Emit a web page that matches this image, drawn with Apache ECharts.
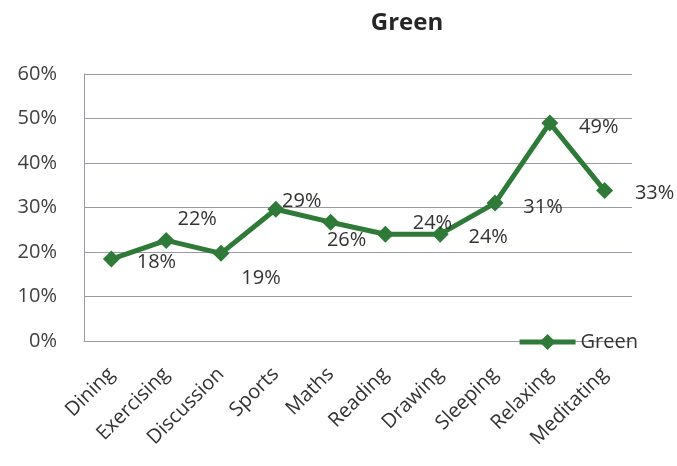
<!DOCTYPE html>
<html>
<head>
<meta charset="utf-8">
<script src="https://cdn.jsdelivr.net/npm/echarts@6/dist/echarts.min.js"></script>
<style>html,body{margin:0;padding:0;background:#fff}#c{width:677px;height:466px}</style>
</head>
<body>
<div id="c"></div>
<script>
const categories = ['Dining','Exercising','Discussion','Sports','Maths','Reading','Drawing','Sleeping','Relaxing','Meditating'];
const greenValues = [18.4, 22.6, 19.7, 29.6, 26.7, 24.0, 24.0, 31.0, 49.0, 33.8];
const yTicks = [0, 10, 20, 30, 40, 50, 60];
const seriesName = 'Green';

const labelOffsets = [[45,3],[31,-21],[40,25],[26,-8],[16,18],[47,-11],[48,3],[48,4],[49,4],[50,3]];
const FONT = '"Open Sans", sans-serif';
const GREEN = '#2f7a38';

const chart = echarts.init(document.getElementById('c'));
chart.setOption({
  animation: false,
  backgroundColor: '#fff',
  title: {
    text: seriesName,
    left: 402, top: 6, textAlign: 'center',
    textStyle: { fontFamily: FONT, fontSize: 24, fontWeight: 'bold', color: '#262626' }
  },
  legend: {
    right: 34, top: 327,
    itemWidth: 56, itemHeight: 20, itemGap: 4,
    lineStyle: { width: 5 },
    textStyle: { fontFamily: FONT, fontSize: 20, color: '#333' },
    data: [seriesName]
  },
  grid: { left: 84, right: 45, top: 74, bottom: 125 },
  xAxis: {
    type: 'category', data: categories, boundaryGap: true,
    axisLine: { show: true, lineStyle: { color: '#9a9aa4' } },
    axisTick: { show: false },
    axisLabel: { rotate: 45, margin: 30, interval: 0, fontFamily: FONT, fontSize: 20, color: '#333' }
  },
  yAxis: {
    type: 'value', min: yTicks[0], max: yTicks[yTicks.length-1], interval: 10,
    axisLine: { show: true, lineStyle: { color: '#9a9aa4' } },
    axisTick: { show: false },
    splitLine: { lineStyle: { color: '#9a9aa4', width: 1 } },
    axisLabel: { margin: 27, fontFamily: FONT, fontSize: 20, color: '#404040', formatter: v => v + '%' }
  },
  series: [{
    name: seriesName, type: 'line',
    data: greenValues.map((v, i) => ({
      value: v,
      label: { offset: labelOffsets[i] }
    })),
    symbol: 'diamond', symbolSize: 17,
    lineStyle: { color: GREEN, width: 5 },
    itemStyle: { color: GREEN },
    label: {
      show: true, position: 'inside',
      fontFamily: FONT, fontSize: 20, color: '#333',
      formatter: p => Math.floor(p.value) + '%'
    }
  }]
});
</script>
</body>
</html>
